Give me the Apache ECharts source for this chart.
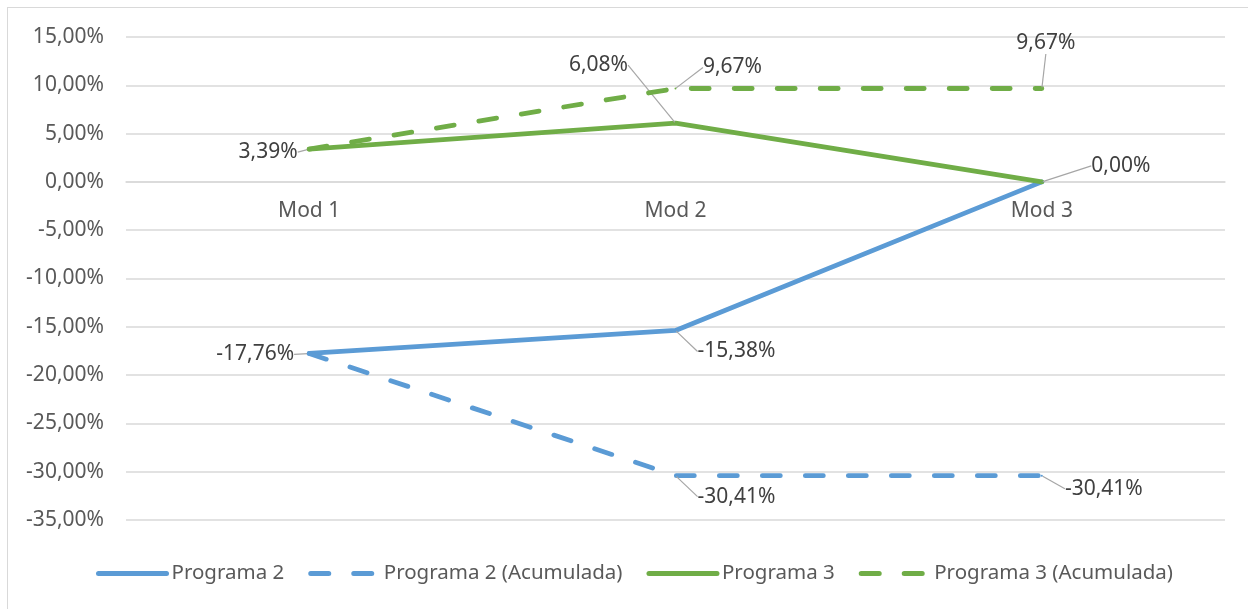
<!DOCTYPE html>
<html>
<head>
<meta charset="utf-8">
<script src="https://cdn.jsdelivr.net/npm/echarts@6/dist/echarts.min.js"></script>
<style>
  html, body { margin: 0; padding: 0; background: #fff; }
  #chart { width: 1248px; height: 609px; }
  #frame { position: absolute; left: 7px; top: 7px; width: 1260px; height: 620px; border: 1px solid #d9d9d9; pointer-events: none; }
</style>
</head>
<body>
<div id="chart"></div>
<div id="frame"></div>
<script>
const categories = ['Mod 1', 'Mod 2', 'Mod 3']
const seriesNames = ['Programa 2', 'Programa 2 (Acumulada)', 'Programa 3', 'Programa 3 (Acumulada)']
const programa2 = [-17.76, -15.38, 0.00]
const programa2Acum = [-17.76, -30.41, -30.41]
const programa3 = [3.39, 6.08, 0.00]
const programa3Acum = [3.39, 9.67, 9.67]

// which points carry a data label, and where the label sits (dx, dy from the point)
const labelShift = [
  [[-54, 1], [61, 21], [79, -16]],
  [null, [61, 21], [62, 13]],
  [[-41, 3], [-77, -58], null],
  [null, [57, -21], [4, -45]]
]

const blue = '#5b9bd5'
const green = '#70ad47'
const pct = v => v.toFixed(2).replace('.', ',') + '%'

function makeSeries(i, values, color, dashed) {
  return {
    name: seriesNames[i],
    type: 'line',
    data: values.map((v, j) => ({ value: v, label: { show: !!labelShift[i][j] } })),
    symbol: 'circle',
    symbolSize: 2,
    itemStyle: { color },
    lineStyle: { color, width: 4.8, type: dashed ? [18, 25] : 'solid', cap: 'round' },
    label: {
      position: 'inside',
      color: '#404040',
      fontSize: 21,
      fontFamily: 'Noto Sans',
      formatter: p => pct(p.value)
    },
    labelLine: { show: true, lineStyle: { color: '#a6a6a6', width: 1.2 } },
    labelLayout: p => {
      const s = labelShift[i][p.dataIndex]
      return s ? { dx: s[0], dy: s[1] } : {}
    },
    animation: false,
    z: dashed ? 3 : 2
  }
}

const chart = echarts.init(document.getElementById('chart'))
chart.setOption({
  grid: { left: 126, right: 23, top: 37, bottom: 89 },
  legend: {
    data: seriesNames,
    bottom: 20,
    left: 91,
    itemWidth: 68,
    itemHeight: 6,
    itemGap: 24,
    itemStyle: { opacity: 0 },
    lineStyle: { width: 5, cap: 'round' },
    textStyle: { color: '#595959', fontSize: 20.5, fontFamily: 'Noto Sans' }
  },
  xAxis: {
    type: 'category',
    data: categories,
    offset: -338,
    axisLine: { onZero: false, lineStyle: { color: '#d9d9d9', width: 1.5 } },
    axisTick: { show: false },
    axisLabel: { color: '#595959', fontSize: 21, fontFamily: 'Noto Sans', margin: 19 }
  },
  yAxis: {
    type: 'value',
    min: -35,
    max: 15,
    interval: 5,
    axisLine: { show: false },
    axisTick: { show: false },
    splitLine: { lineStyle: { color: '#d9d9d9', width: 1.5 } },
    axisLabel: { color: '#595959', fontSize: 21, fontFamily: 'Noto Sans', margin: 22, formatter: v => pct(v) }
  },
  series: [
    makeSeries(0, programa2, blue, false),
    makeSeries(1, programa2Acum, blue, true),
    makeSeries(2, programa3, green, false),
    makeSeries(3, programa3Acum, green, true)
  ]
})
</script>
</body>
</html>
